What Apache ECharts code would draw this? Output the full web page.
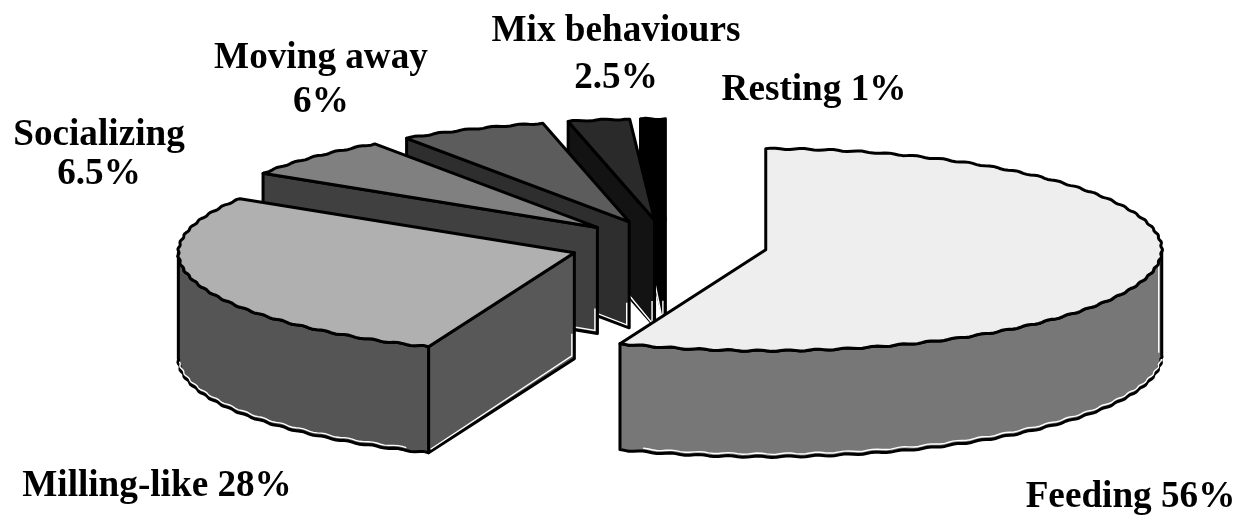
<!DOCTYPE html>
<html>
<head>
<meta charset="utf-8">
<style>html,body{margin:0;padding:0;background:#fff}#chart{width:1252px;height:516px}</style>
<script src="https://cdn.jsdelivr.net/npm/echarts@6/dist/echarts.min.js"></script>
</head>
<body>
<div id="chart"></div>
<script>
// Share of observed time per behaviour, percent
const categories = ['Feeding', 'Milling-like', 'Socializing', 'Moving away', 'Mix behaviours', 'Resting'];
const shares = [56, 28, 6.5, 6, 2.5, 1];

// Slice shades
const topColors = ['#eeeeee', '#b0b0b0', '#808080', '#5c5c5c', '#2a2a2a', '#000000'];
const rimColors = ['#777777', '#555555', '#404040', '#2e2e2e', '#131313', '#000000'];
const faceColors = ['#777777', '#585858', '#404040', '#2e2e2e', '#131313', '#000000'];

// Label text, one entry per drawn line
const labelLines = [
  ['Feeding 56%'],
  ['Milling-like 28%'],
  ['Socializing', '6.5%'],
  ['Moving away', '6%'],
  ['Mix behaviours', '2.5%'],
  ['Resting 1%']
];
const labelAnchors = [
  [[1130.5, 497]],
  [[157, 486]],
  [[99, 135], [99, 174]],
  [[321, 58], [321, 102]],
  [[616, 31], [616, 78]],
  [[814, 90]]
];

// Projection of the tilted pie
const view = { cx: 668.5, cy: 245, rx: 396, ry: 101, depth: 106, explode: 0.25 };
// Slight ripple of the printed outline
const ripple = { amplitude: 0.7, cycles: 170 };
const INK = '#000000';
const RAD = Math.PI / 180;
const total = shares.reduce((a, b) => a + b, 0);

function angleRange(i) {
  let start = 0;
  for (let k = 0; k < i; k++) start += shares[k] / total * 360;
  return [start, start + shares[i] / total * 360];
}
// Angles run clockwise from twelve o'clock
function onEllipse(o, deg) {
  return [o[0] + view.rx * Math.sin(deg * RAD), o[1] - view.ry * Math.cos(deg * RAD)];
}
function rim(o, a, b) {
  const n = Math.max(1, Math.round(Math.abs(b - a) / 0.7));
  const pts = [];
  for (let k = 0; k <= n; k++) {
    const deg = a + (b - a) * k / n;
    const p = onEllipse(o, deg);
    const w = (k === 0 || k === n) ? 0 : ripple.amplitude * Math.sin(deg * RAD * ripple.cycles / 2);
    pts.push([p[0] + w * Math.sin(deg * RAD), p[1] - w * Math.cos(deg * RAD)]);
  }
  return pts;
}
const drop = (pts, dy) => pts.map(p => [p[0], p[1] + dy]);

function renderSlice(params, api) {
  const i = params.dataIndex;
  const [a, b] = angleRange(i);
  const mid = (a + b) / 2;
  const apex = [
    view.cx + view.explode * view.rx * Math.sin(mid * RAD),
    view.cy - view.explode * view.ry * Math.cos(mid * RAD)
  ];
  // Painted back to front: small far slices first, the two large ones last
  const rank = (i === 0 ? categories.length : categories.length - i) * 10;
  const children = [];
  const add = (pts, fill, z) => children.push({
    type: 'polygon', z2: rank + z, shape: { points: pts },
    style: { fill: fill, stroke: INK, lineWidth: 3, lineJoin: 'round' }
  });
  const glint = (pts, z) => children.push({
    type: 'polyline', z2: rank + z, shape: { points: pts },
    style: { fill: null, stroke: '#ffffff', lineWidth: 1.4 }
  });

  // Flat cut face along the starting edge, seen when it turns toward the viewer
  if (a > 180) {
    const outer = onEllipse(apex, a);
    add([outer, apex, [apex[0], apex[1] + view.depth], [outer[0], outer[1] + view.depth]], faceColors[i], 1);
    glint([[apex[0] - 2.5, apex[1] + view.depth - 25], [apex[0] - 2.5, apex[1] + view.depth - 3], [outer[0] + 2, outer[1] + view.depth - 3.5]], 2);
  }
  // Curved outer wall on the near half of the ellipse
  const from = Math.max(a, 90), to = Math.min(b, 270);
  if (to > from) {
    const edge = rim(apex, from, to);
    add(edge.concat(drop(edge, view.depth).reverse()), rimColors[i], 3);
    glint(drop(edge, view.depth - 3).slice(5, -5), 4);
    if (from === 90) {
      const e = edge[0];
      glint([[e[0] - 3, e[1] + 6], [e[0] - 3, e[1] + view.depth - 3]], 4);
    }
  }
  // Top surface
  add([apex].concat(rim(apex, a, b)), topColors[i], 5);

  // Labels for this slice
  labelLines[i].forEach((line, k) => {
    children.push({
      type: 'text', z2: 100,
      style: {
        x: labelAnchors[i][k][0], y: labelAnchors[i][k][1], text: line,
        fill: INK, font: 'bold 37.2px "Liberation Serif"',
        textAlign: 'center', textVerticalAlign: 'middle'
      }
    });
  });
  return { type: 'group', children: children };
}

const chart = echarts.init(document.getElementById('chart'), null, { renderer: 'canvas' });
chart.setOption({
  animation: false,
  backgroundColor: '#ffffff',
  series: [{
    type: 'custom',
    coordinateSystem: 'none',
    renderItem: renderSlice,
    data: shares.map(v => [v]),
    silent: true
  }]
});
</script>
</body>
</html>
